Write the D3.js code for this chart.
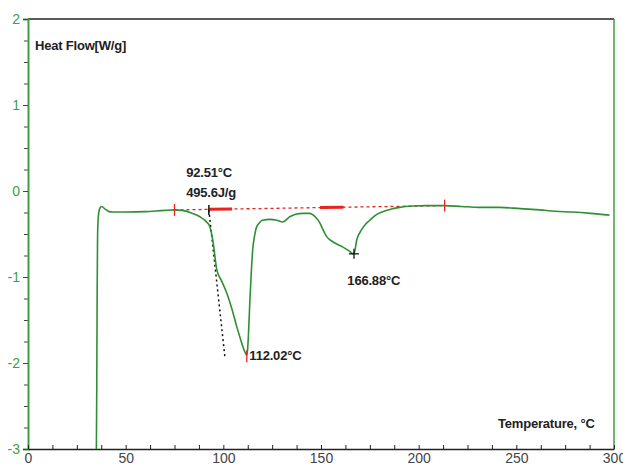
<!DOCTYPE html>
<html>
<head>
<meta charset="utf-8">
<script src="https://cdn.jsdelivr.net/npm/d3@7"></script>
<style>
  body { margin: 0; background: #fff; }
  svg { display: block; font-family: Arial, "Liberation Sans", sans-serif; }
  .lbl { font-weight: bold; font-size: 13px; fill: #222; }
</style>
</head>
<body>
<svg id="chart" width="623" height="466"></svg>
<script>
"use strict";

// ===== Data =====
const temps = [35.0, 35.2, 35.4, 35.6, 36.0, 36.8, 37.7, 39.5, 41.5, 43.5, 50, 60, 70, 75, 79,
  84, 88, 91, 93, 94.6, 96.7, 99, 101.8, 104.5, 106.9, 108.5, 110, 111.2, 112.02, 112.5, 113.0,
  113.6, 114.3, 115, 116, 117, 118.5, 120, 124, 127.4, 130.4, 134, 137, 140.7, 144.2, 147,
  149.4, 151, 152.9, 156, 161, 164, 166.88, 168.3, 170.8, 173, 175, 178, 181.6, 186, 190.3,
  197, 204, 213.3, 222, 231, 241.4, 252, 261.9, 270, 278.8, 288, 297.7];
const heatFlow = [-3.0, -2.3, -1.2, -0.55, -0.3, -0.2, -0.18, -0.21, -0.24, -0.245, -0.245,
  -0.24, -0.225, -0.22, -0.225, -0.26, -0.3, -0.35, -0.41, -0.57, -0.92, -1.04, -1.19, -1.38,
  -1.58, -1.70, -1.81, -1.88, -1.91, -1.82, -1.60, -1.27, -0.95, -0.69, -0.52, -0.42, -0.37,
  -0.34, -0.33, -0.34, -0.36, -0.30, -0.27, -0.26, -0.26, -0.30, -0.37, -0.45, -0.53, -0.59,
  -0.65, -0.69, -0.73, -0.57, -0.45, -0.38, -0.34, -0.28, -0.24, -0.21, -0.19, -0.175, -0.17,
  -0.17, -0.18, -0.19, -0.19, -0.205, -0.22, -0.235, -0.245, -0.26, -0.28];

// baseline used for the peak integration
const baseT = [75, 213.3];
const baseHF = [-0.22, -0.17];
// thick red marks sitting on the baseline
const markStart = [92.8, 149.5];
const markEnd = [104.5, 161.5];
// onset tangent
const tangentT = [92.6, 100.8];
const tangentHF = [-0.22, -1.93];

const xTicks = [0, 50, 100, 150, 200, 250, 300];
const yTicks = [-3, -2, -1, 0, 1, 2];

const labels = [
  { t: 81, hf: 0.16, text: "92.51\u00b0C" },
  { t: 81, hf: -0.07, text: "495.6J/g" },
  { t: 113.3, hf: -1.97, text: "112.02\u00b0C" },
  { t: 163.5, hf: -1.09, text: "166.88\u00b0C" }
];

// ===== Layout =====
const svg = d3.select("#chart");
const mLeft = 28, mRight = 614, mTop = 19, mBottom = 449;

const x = d3.scaleLinear().domain([0, 300]).range([mLeft, mRight]);
const y = d3.scaleLinear().domain([-3, 2]).range([mBottom, mTop]);

const green = "#3f9f3f";
const curveGreen = "#2f8f34";
const red = "#e8231f";

// Frame: black top/bottom, green left/right
svg.append("line").attr("x1", mLeft).attr("x2", mRight).attr("y1", mTop).attr("y2", mTop)
  .attr("stroke", "#222").attr("stroke-width", 1.5);
svg.append("line").attr("x1", mRight).attr("x2", mRight).attr("y1", mTop).attr("y2", mBottom)
  .attr("stroke", green).attr("stroke-width", 1.5);

// Y axis (green)
const yMinor = svg.append("g").attr("transform", `translate(${mLeft},0)`)
  .call(d3.axisLeft(y).tickValues(d3.range(-3, 2.01, 0.25)).tickSize(4).tickFormat(""));
yMinor.select(".domain").remove();
yMinor.selectAll("line").attr("stroke", "#444");

const yAxis = svg.append("g").attr("transform", `translate(${mLeft},0)`)
  .call(d3.axisLeft(y).tickValues(yTicks).tickSize(5).tickPadding(3).tickFormat(d => String(d)));
yAxis.select(".domain").attr("stroke", green).attr("stroke-width", 2);
yAxis.selectAll("line").attr("stroke", "#444");
yAxis.selectAll("text").attr("fill", green).attr("font-size", 14)
  .attr("font-family", "Arial, 'Liberation Sans', sans-serif");

// X axis (black)
const xMinor = svg.append("g").attr("transform", `translate(0,${mBottom})`)
  .call(d3.axisTop(x).tickValues(d3.range(0, 300.1, 12.5)).tickSize(4).tickFormat(""));
xMinor.select(".domain").remove();
xMinor.selectAll("line").attr("stroke", "#222");

const xAxis = svg.append("g").attr("transform", `translate(0,${mBottom})`)
  .call(d3.axisBottom(x).tickValues(xTicks).tickSize(0).tickPadding(4));
xAxis.select(".domain").attr("stroke", "#222").attr("stroke-width", 1.5);
xAxis.selectAll("text").attr("fill", "#444").attr("font-size", 14)
  .attr("font-family", "Arial, 'Liberation Sans', sans-serif");

// Axis titles
svg.append("text").attr("class", "lbl").attr("x", 35).attr("y", 50)
  .attr("font-size", 14).attr("letter-spacing", -0.2).text("Heat Flow[W/g]");
svg.append("text").attr("class", "lbl").attr("x", 498).attr("y", 428)
  .attr("font-size", 13.5).attr("letter-spacing", -0.2).text("Temperature, \u00b0C");

// Baseline (red dotted)
svg.append("line")
  .attr("x1", x(baseT[0])).attr("y1", y(baseHF[0]))
  .attr("x2", x(baseT[1])).attr("y2", y(baseHF[1]))
  .attr("stroke", red).attr("stroke-width", 1.3).attr("stroke-dasharray", "3,3");

const baseAt = t => baseHF[0] + (baseHF[1] - baseHF[0]) * (t - baseT[0]) / (baseT[1] - baseT[0]);

markStart.forEach((s, i) => {
  svg.append("line")
    .attr("x1", x(s)).attr("y1", y(baseAt(s)))
    .attr("x2", x(markEnd[i])).attr("y2", y(baseAt(markEnd[i])))
    .attr("stroke", red).attr("stroke-width", 3);
});

// Onset tangent (black dotted)
svg.append("line")
  .attr("x1", x(tangentT[0])).attr("y1", y(tangentHF[0]))
  .attr("x2", x(tangentT[1])).attr("y2", y(tangentHF[1]))
  .attr("stroke", "#111").attr("stroke-width", 1.5).attr("stroke-dasharray", "2,3");

// Curve
const line = d3.line().x((d, i) => x(temps[i])).y(d => y(d)).curve(d3.curveMonotoneX);
svg.append("path").datum(heatFlow)
  .attr("d", line)
  .attr("fill", "none").attr("stroke", curveGreen).attr("stroke-width", 1.6);

// Red tick marks on baseline ends
baseT.forEach((t, i) => {
  svg.append("line").attr("x1", x(t)).attr("x2", x(t))
    .attr("y1", y(baseHF[i]) - 6).attr("y2", y(baseHF[i]) + 6)
    .attr("stroke", red).attr("stroke-width", 1.3);
});
// Red tick at the main peak
svg.append("line").attr("x1", x(112.02)).attr("x2", x(112.02))
  .attr("y1", y(-1.91) - 5).attr("y2", y(-1.91) + 7)
  .attr("stroke", red).attr("stroke-width", 1.3);
// Black onset mark
svg.append("line").attr("x1", x(92.6)).attr("x2", x(92.6))
  .attr("y1", y(-0.22) - 5).attr("y2", y(-0.22) + 5)
  .attr("stroke", "#111").attr("stroke-width", 1.5);
// Black cross at the second peak
const cx = x(166.88), cy = y(-0.73);
svg.append("path").attr("d", `M${cx - 5},${cy}H${cx + 5}M${cx},${cy - 5}V${cy + 5}`)
  .attr("stroke", "#111").attr("stroke-width", 1.3);

// Annotation labels
svg.selectAll(".ann").data(labels).join("text")
  .attr("class", "lbl ann")
  .attr("x", d => x(d.t)).attr("y", d => y(d.hf))
  .attr("letter-spacing", -0.2)
  .text(d => d.text);
</script>
</body>
</html>
